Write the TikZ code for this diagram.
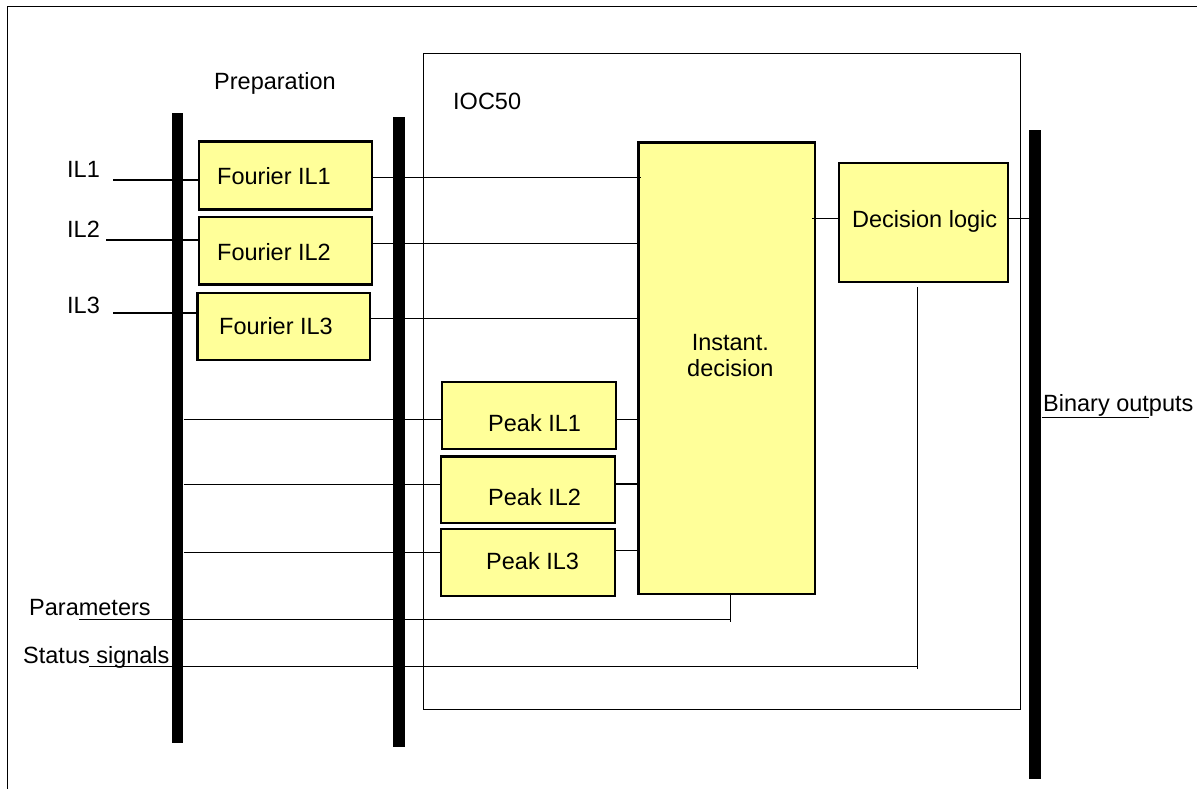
\documentclass[tikz,border=0pt]{standalone}
\usepackage{fontspec}
\setmainfont{Liberation Sans}
\definecolor{boxyellow}{RGB}{255,255,153}
\begin{document}
\begin{tikzpicture}[x=1pt,y=-1pt,
  thin line/.style={line width=1.4pt,black},
  blockbox/.style={draw=black,line width=2.2pt,fill=boxyellow,rectangle,inner sep=0pt},
  busbar/.style={fill=black,draw=none,rectangle,inner sep=0pt},
  lbl/.style={inner sep=0pt,anchor=base west,font=\fontsize{23.5}{27}\selectfont},
  clbl/.style={inner sep=0pt,anchor=base,font=\fontsize{23.5}{27}\selectfont}]
\useasboundingbox (0,0) rectangle (1197,789);
% outer frame
\draw[line width=1.3pt] (7.3,795) -- (7.3,6.7) -- (1205,6.7);
% IOC50 frame
\draw[line width=1.5pt] (423.7,53.5) rectangle (1020.7,709.3);
% buses
\node[busbar,minimum width=11.5pt,minimum height=630.3pt] (bus1) at (177.7,428.2) {};
\node[busbar,minimum width=11.7pt,minimum height=629.7pt] (bus2) at (399.2,431.8) {};
\node[busbar,minimum width=12pt,minimum height=649.3pt] (bus3) at (1035.3,454.7) {};
% boxes
\node[blockbox,minimum width=172.8pt,minimum height=67.8pt] (f1) at (285.3,175.5) {};
\node[blockbox,minimum width=172.8pt,minimum height=67.8pt] (f2) at (285.3,250.5) {};
\node[blockbox,minimum width=172.5pt,minimum height=66.8pt] (f3) at (283.7,326.2) {};
\node[blockbox,minimum width=173.8pt,minimum height=66.8pt] (p1) at (529,415.2) {};
\node[blockbox,minimum width=173.8pt,minimum height=66.5pt] (p2) at (527.7,489.7) {};
\node[blockbox,minimum width=173.8pt,minimum height=66.8pt] (p3) at (527.7,562.2) {};
\node[blockbox,minimum width=176.2pt,minimum height=451.6pt] (inst) at (726.5,368.4) {};
\node[blockbox,minimum width=169.1pt,minimum height=119.4pt] (dec) at (923.7,222.5) {};
% texts
\node[lbl] (prep) at (214,90) {Preparation};
\node[lbl] (ioc) at (453,110) {IOC50};
\node[lbl] (il1) at (67,177.5) {IL1};
\node[lbl] (il2) at (67,237.5) {IL2};
\node[lbl] (il3) at (67,313) {IL3};
\node[lbl] (f1t) at (217,184) {Fourier IL1};
\node[lbl] (f2t) at (217,260) {Fourier IL2};
\node[lbl] (f3t) at (219,334) {Fourier IL3};
\node[lbl] (p1t) at (488,431) {Peak IL1};
\node[lbl] (p2t) at (488,505) {Peak IL2};
\node[lbl] (p3t) at (486,569) {Peak IL3};
\node[clbl] (instt1) at (730.3,350) {Instant.};
\node[clbl] (instt2) at (730.3,376.7) {decision};
\node[lbl] (dect) at (852,227.3) {Decision logic};
\node[lbl] (part) at (29,615) {Parameters};
\node[lbl] (stat) at (23,663.3) {Status signals};
\node[lbl] (bint) at (1043,411) {Binary outputs};
% input lines
\coordinate (i1) at (113,180);
\coordinate (i2) at (106,240);
\coordinate (i3) at (113,313);
\draw[thin line] (i1) -- (i1 -| f1.west);
\draw[thin line] (i2) -- (i2 -| f2.west);
\draw[thin line] (i3) -- (i3 -| f3.west);
% fourier to instant
\coordinate (c1) at (640.7,177.7);
\coordinate (c2) at (0,243.7);
\coordinate (c3) at (0,318.3);
\draw[thin line] (c1 -| f1.east) -- (c1);
\draw[thin line] (c2 -| f2.east) -- (c2 -| inst.west);
\draw[thin line] (c3 -| f3.east) -- (c3 -| inst.west);
% bus1 to peaks
\coordinate (q1) at (0,419.7);
\coordinate (q2) at (0,484.7);
\coordinate (q3) at (0,552.7);
\draw[thin line] (q1 -| bus1.east) -- (q1 -| p1.west);
\draw[thin line] (q2 -| bus1.east) -- (q2 -| p2.west);
\draw[thin line] (q3 -| bus1.east) -- (q3 -| p3.west);
% peaks to instant
\coordinate (r1) at (0,419.7);
\coordinate (r2) at (0,484);
\coordinate (r3) at (0,550.3);
\draw[thin line] (r1 -| p1.east) -- (r1 -| inst.west);
\draw[thin line] (r2 -| p2.east) -- (r2 -| inst.west);
\draw[thin line] (r3 -| p3.east) -- (r3 -| inst.west);
% parameters
\coordinate (pa) at (79,619.3);
\coordinate (pv) at (730.3,622.3);
\draw[thin line] (pa) -- (pa -| pv);
\draw[thin line] (inst.south -| pv) -- (pv);
% status
\coordinate (sa) at (89,666.3);
\coordinate (sv) at (917.2,669.3);
\coordinate (st) at (917.2,287.3);
\draw[thin line] (sa) -- (sa -| sv);
\draw[thin line] (st) -- (sv);
% decision logic
\coordinate (d0) at (812,218.3);
\draw[thin line] (d0) -- (d0 -| dec.west);
\draw[thin line] (d0 -| dec.east) -- (d0 -| bus3.west);
% binary outputs
\coordinate (bo) at (1148.7,417.3);
\draw[thin line] (bo -| bus3.east) -- (bo);
\end{tikzpicture}
\end{document}
